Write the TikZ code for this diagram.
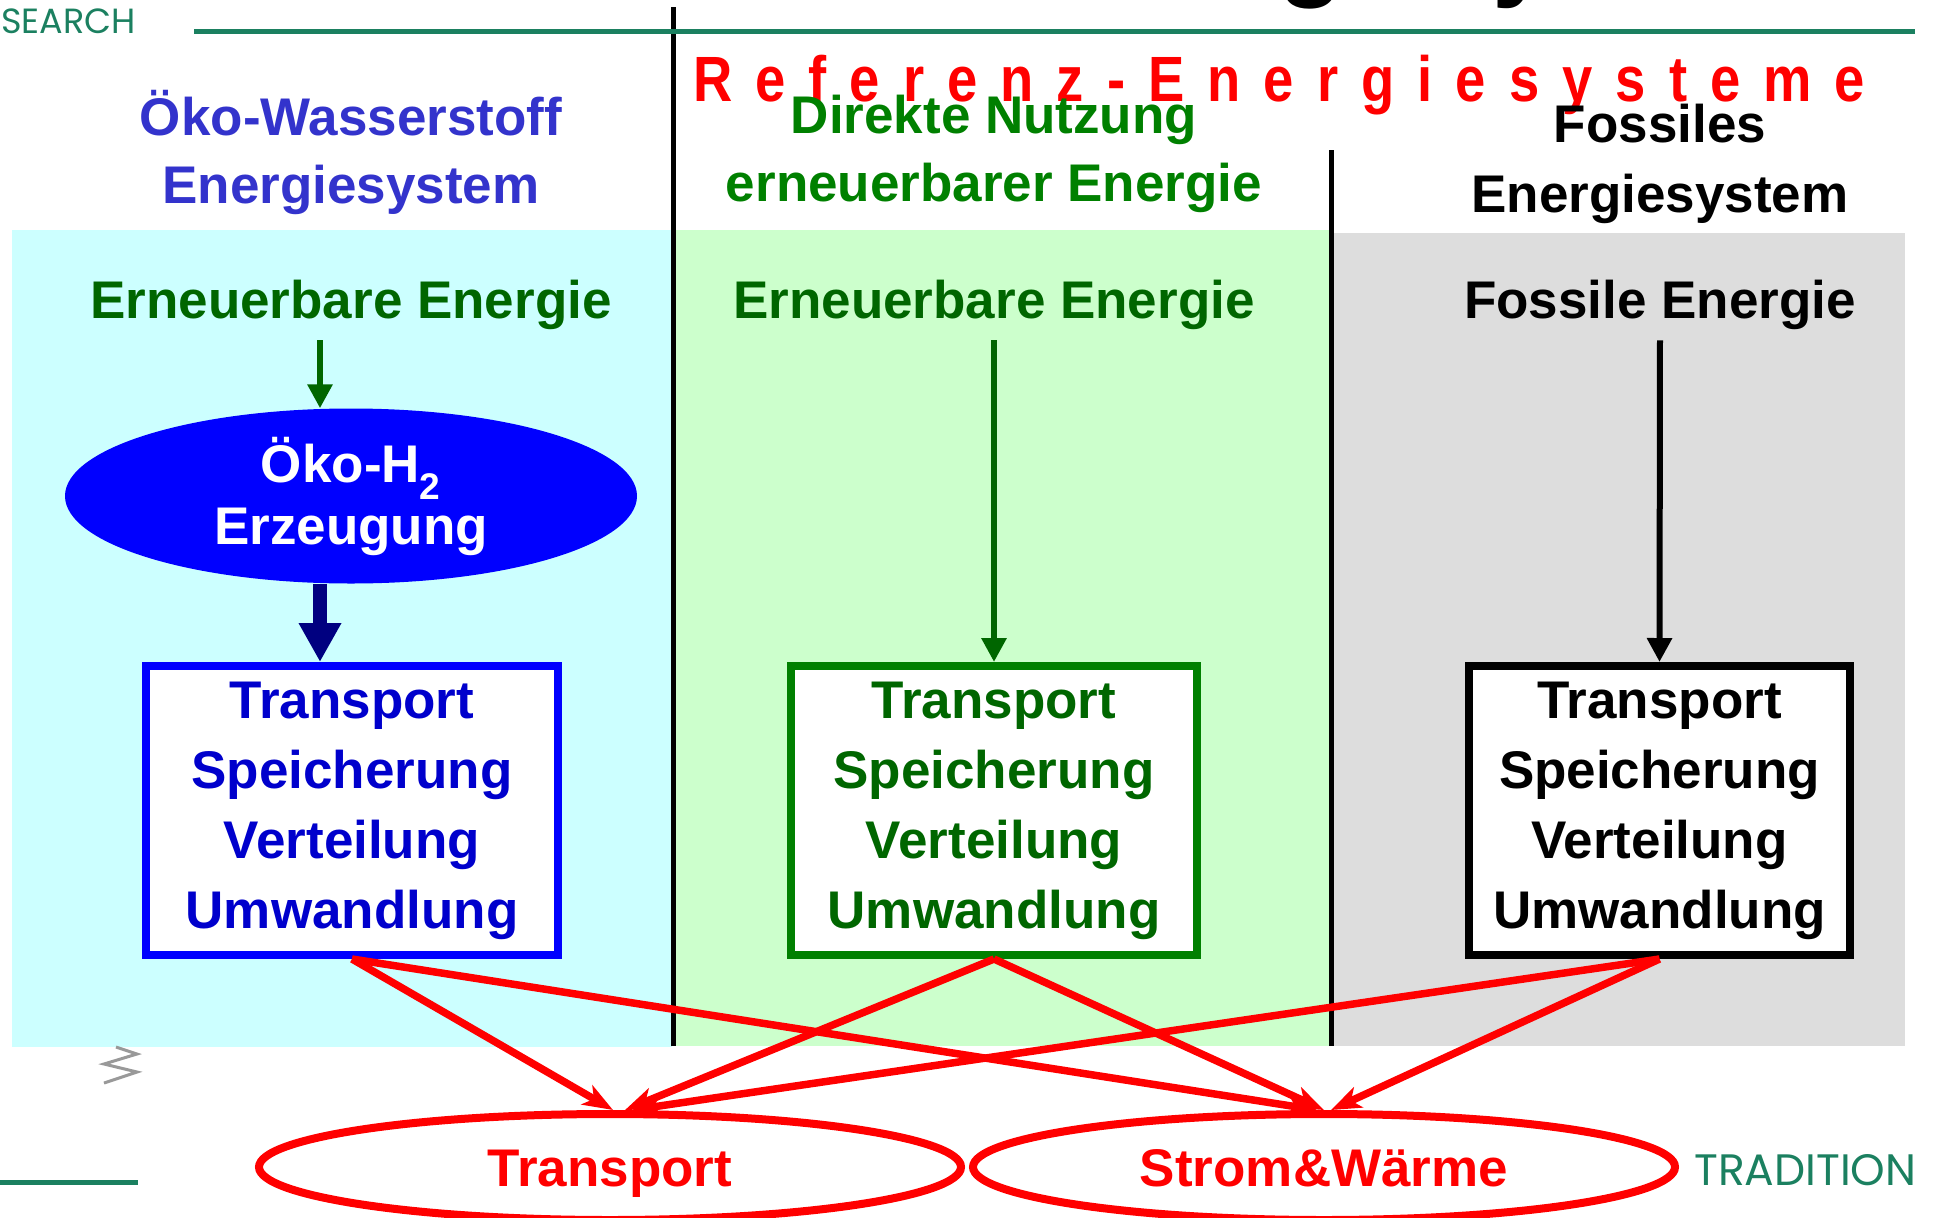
\documentclass[tikz,border=0pt]{standalone}
\usepackage{fontspec}
\setmainfont{Liberation Sans}
\newfontfamily\logofont{Poppins}
\newfontfamily\spreadfont[FakeStretch=0.85,LetterSpace=36]{Liberation Sans}
\usetikzlibrary{arrows.meta,shapes.geometric,positioning}
\definecolor{hblue}{HTML}{3333CC}
\definecolor{tblue}{HTML}{0000CC}
\definecolor{navyarrow}{HTML}{000080}
\definecolor{hgreen}{HTML}{008000}
\definecolor{dgreen}{HTML}{006600}
\definecolor{cyanbg}{HTML}{CCFFFF}
\definecolor{greenbg}{HTML}{CCFFCC}
\definecolor{graybg}{HTML}{DDDDDD}
\definecolor{logoteal}{HTML}{1B8060}
\begin{document}
\begin{tikzpicture}[x=1pt, y=-1pt,
    hdr/.style={font=\fontsize{53}{68}\selectfont\bfseries, align=center, inner sep=0pt, anchor=base},
    stage/.style={draw, line width=8pt, fill=white, minimum height=289pt, inner sep=0pt,
      font=\fontsize{53}{70}\selectfont\bfseries, align=center},
    sink/.style={ellipse, draw=red, line width=8pt, minimum width=702pt, minimum height=106pt,
      inner sep=0pt, text=red, text height=38pt, text depth=0pt, font=\fontsize{53}{60}\selectfont\bfseries},
    flow/.style={line width=6pt, -{Triangle[length=24pt,width=24pt]}},
    tie/.style={red, line width=7.5pt, -{Stealth[length=30pt,width=22pt,inset=8pt]}},
    logo/.style={logoteal, inner sep=0pt}]
  \useasboundingbox (0,0) rectangle (1933,1218);
  \clip (0,0) rectangle (1933,1218);

  % panels and rules
  \fill[cyanbg] (12,230) rectangle (672,1047);
  \fill[greenbg] (676,230) rectangle (1329,1046);
  \fill[graybg] (1334,233) rectangle (1905,1046);
  \draw[line width=5pt] (673,7) -- (673,1046);
  \draw[line width=5pt] (1331,150) -- (1331,1046);
  \draw[logoteal, line width=5pt] (194,31) -- (1915,31);
  \draw[logoteal, line width=5pt] (0,1182) -- (138,1182);
  \draw[gray!80, line width=3pt] (116,1047) -- (137,1054) -- (104,1064) -- (137,1072) -- (104,1083);

  % slide title (cut off) and logo text
  \node[anchor=base west, inner sep=0pt, font=\fontsize{107}{120}\selectfont\bfseries] (title) at (1040,-13) {Energiesystem};
  \node[logo, anchor=base east, font=\logofont\fontsize{35}{40}\selectfont] (search) at (136,33) {SEARCH};
  \node[logo, anchor=base west, font=\logofont\fontsize{44}{50}\selectfont] (tradition) at (1694,1185) {TRADITION};

  % column headers
  \node[hdr, anchor=base west, red, font=\fontsize{64}{70}\selectfont\spreadfont\bfseries] (ref) at (693,101) {Referenz-Energiesysteme};
  \node[hdr, hblue] (hwas) at (351,203) {Öko-Wasserstoff\\Energiesystem};
  \node[hdr, hgreen] (hdir) at (994,201) {Direkte Nutzung\\erneuerbarer Energie};
  \node[hdr, font=\fontsize{53}{70}\selectfont\bfseries] (hfos) at (1660,212) {Fossiles\\Energiesystem};

  % sources
  \node[hdr, dgreen] (src1) at (351,318) {Erneuerbare Energie};
  \node[hdr, dgreen] (src2) at (994,318) {Erneuerbare Energie};
  \node[hdr] (src3) at (1660,318) {Fossile Energie};

  \node[ellipse, fill=blue, text=white, minimum width=572pt, minimum height=175pt, inner sep=0pt,
    font=\fontsize{53}{62}\selectfont\bfseries, align=center] (oko) at (351,496) {Öko-H\textsubscript{2}\\Erzeugung};

  % chains
  \node[stage, draw=blue, text=tblue, minimum width=412pt] (lbox) at (352,810.5) {Transport\\Speicherung\\Verteilung\\Umwandlung};
  \node[stage, draw=hgreen, text=dgreen, minimum width=406pt] (mbox) at (994,810.5) {Transport\\Speicherung\\Verteilung\\Umwandlung};
  \node[stage, draw=black, minimum width=381pt] (rbox) at (1659.5,810.5) {Transport\\Speicherung\\Verteilung\\Umwandlung};

  \coordinate (lin) at (320,340);
  \draw[flow, dgreen] (lin) -- (lin |- oko.north);
  \draw[navyarrow, line width=14pt, -{Triangle[length=39pt,width=40pt]}] (lin |- oko.south) -- (lin |- lbox.north);
  \draw[flow, dgreen, shorten <=11pt] (src2.south) -- (mbox.north);
  \draw[flow, shorten <=11pt] (src3.south) -- (rbox.north);

  % end uses
  \node[sink] (useT) at (610,1167) {Transport};
  \node[sink] (useS) at (1324,1167) {Strom\&Wärme};

  \foreach \b/\dx/\ex in {lbox/3/-7, mbox/15/0, rbox/22/7} {
    \draw[tie] (\b.south) -- ([xshift=\dx pt]useT.north);
    \draw[tie] (\b.south) -- ([xshift=\ex pt]useS.north);
  }
\end{tikzpicture}
\end{document}
